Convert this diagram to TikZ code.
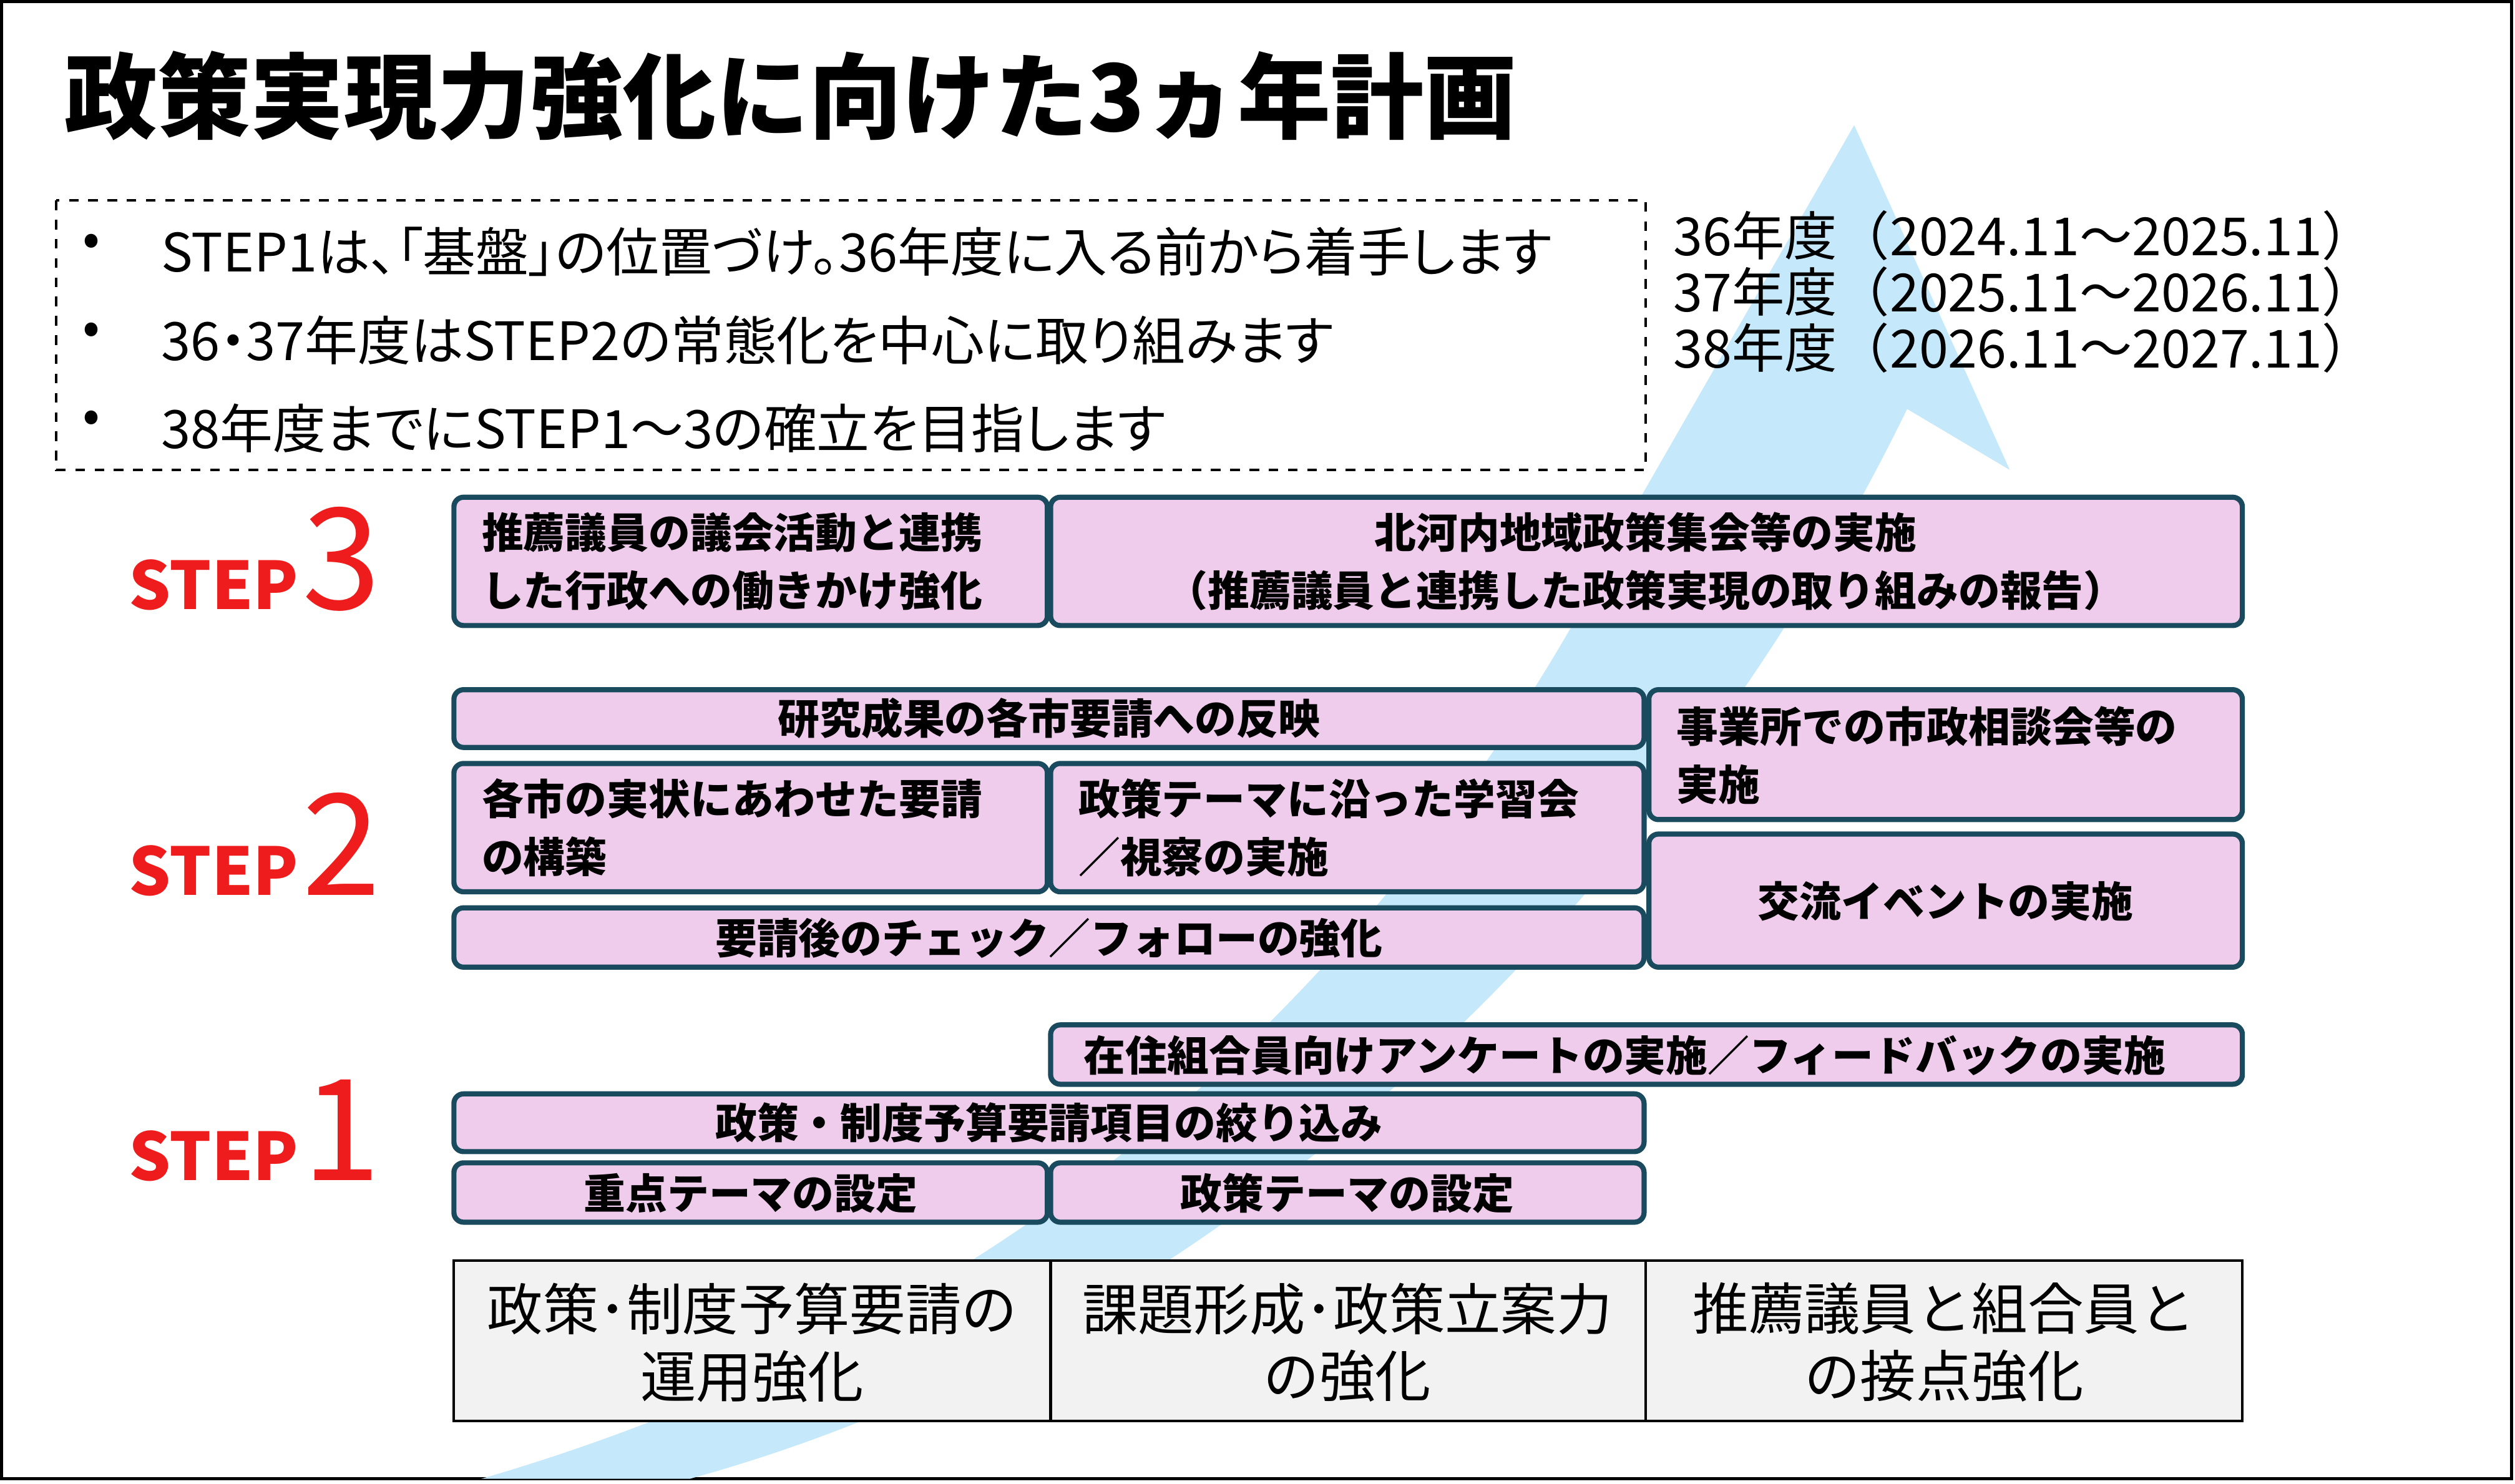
\documentclass[tikz,border=0pt]{standalone}
\usepackage{fontspec}
\setmainfont{Noto Sans CJK JP}
\newfontfamily\paltfont{Noto Sans CJK JP}[RawFeature=+palt]
\definecolor{pinkf}{HTML}{F0CCEC}
\definecolor{teal}{HTML}{1A4A5E}
\definecolor{arrowb}{HTML}{C5E9FB}
\definecolor{stepred}{HTML}{EE1C1C}
\definecolor{grayf}{HTML}{F2F2F2}
\begin{document}
\begin{tikzpicture}[x=0.5pt,y=-0.5pt,
  pbox/.style={draw=teal,line width=1.6pt,fill=pinkf,rounded corners=3pt},
  gbox/.style={draw=black,line width=0.8pt,fill=grayf},
  btxt/.style={font=\fontsize{13}{18}\selectfont\bfseries,align=left,anchor=west,inner sep=0},
  ctxt/.style={font=\fontsize{13}{18}\selectfont\bfseries,align=center,inner sep=0},
  gtxt/.style={font=\fontsize{17.4}{21}\selectfont,align=center,inner sep=0},
  steplbl/.style={text=stepred,font=\fontsize{20.5}{20}\selectfont\bfseries,anchor=base west,inner sep=0},
  stepnum/.style={text=stepred,font=\fontsize{44}{44}\selectfont,anchor=base west,inner sep=0},
  yr/.style={font=\fontsize{16.4}{18}\selectfont,anchor=west,inner sep=0}]
\useasboundingbox (0,0) rectangle (1568,925);
\draw[line width=1pt] (1,1) rectangle (1566,922);
% arrow
\fill[arrowb] (300,922) .. controls (650,820) and (880,600) .. (1024,308)
  -- (1156,78) -- (1253,293) -- (1189,255)
  .. controls (1060,520) and (800,820) .. (430,922) -- cycle;
% title
\node[anchor=west,inner sep=0,font=\fontsize{29}{30}\selectfont\bfseries] (title) at (40,60) {政策実現力強化に向けた3ヵ年計画};
% dashed box
\draw[dashed,line width=0.8pt] (35,125) rectangle (1026,293);
\foreach \yy/\t [count=\i] in {157/STEP1は、「基盤」の位置づけ。36年度に入る前から着手します,212/36・37年度はSTEP2の常態化を中心に取り組みます,267/38年度までにSTEP1～3の確立を目指します}{
  \node[anchor=center,inner sep=0,font=\fontsize{16}{18}\selectfont] (bul\i) at (57,\yy-4) {•};
  \node[anchor=west,inner sep=0,font=\paltfont\fontsize{16.5}{18}\selectfont] (bt\i) at (100,\yy) {\t};
}
\node[yr] (y1) at (1043,147) {36年度（2024.11～2025.11）};
\node[yr] (y2) at (1043,182) {37年度（2025.11～2026.11）};
\node[yr] (y3) at (1043,217) {38年度（2026.11～2027.11）};
% step labels
\node[steplbl] (s3) at (80,380) {STEP};
\node[stepnum] (n3) at (188,380) {3};
\node[steplbl] (s2) at (80,558) {STEP};
\node[stepnum] (n2) at (188,558) {2};
\node[steplbl] (s1) at (80,736) {STEP};
\node[stepnum] (n1) at (188,736) {1};
% STEP3 boxes
\draw[pbox] (283,310) rectangle (653,390);
\node[btxt] (a1) at (300,350) {推薦議員の議会活動と連携\\した行政への働きかけ強化};
\draw[pbox] (655,310) rectangle (1398,390);
\node[ctxt] (a2) at (1026,350) {北河内地域政策集会等の実施\\（推薦議員と連携した政策実現の取り組みの報告）};
% STEP2 boxes
\draw[pbox] (283,430) rectangle (1025,466);
\node[ctxt] (b1) at (654,448) {研究成果の各市要請への反映};
\draw[pbox] (1028,430) rectangle (1398,511);
\node[btxt] (b2) at (1045,471) {事業所での市政相談会等の\\実施};
\draw[pbox] (283,476) rectangle (653,556);
\node[btxt] (b3) at (300,516) {各市の実状にあわせた要請\\の構築};
\draw[pbox] (655,476) rectangle (1025,556);
\node[btxt] (b4) at (672,516) {政策テーマに沿った学習会\\／視察の実施};
\draw[pbox] (283,566) rectangle (1025,603);
\node[ctxt] (b5) at (654,585) {要請後のチェック／フォローの強化};
\draw[pbox] (1028,520) rectangle (1398,603);
\node[ctxt] (b6) at (1213,562) {交流イベントの実施};
% STEP1 boxes
\draw[pbox] (655,639) rectangle (1398,676);
\node[ctxt] (c1) at (1013,658) {在住組合員向けアンケートの実施／フィードバックの実施};
\draw[pbox] (283,682) rectangle (1025,718);
\node[ctxt] (c2) at (654,700) {政策・制度予算要請項目の絞り込み};
\draw[pbox] (283,725) rectangle (653,762);
\node[ctxt] (c3) at (468,744) {重点テーマの設定};
\draw[pbox] (655,725) rectangle (1025,762);
\node[ctxt] (c4) at (840,744) {政策テーマの設定};
% bottom boxes
\draw[gbox] (283,786) rectangle (655,886);
\node[gtxt] (d1) at (469,837) {政策･制度予算要請の\\運用強化};
\draw[gbox] (655,786) rectangle (1026,886);
\node[gtxt] (d2) at (840,837) {課題形成･政策立案力\\の強化};
\draw[gbox] (1026,786) rectangle (1398,886);
\node[gtxt] (d3) at (1212,837) {推薦議員と組合員と\\の接点強化};
\end{tikzpicture}
\end{document}
